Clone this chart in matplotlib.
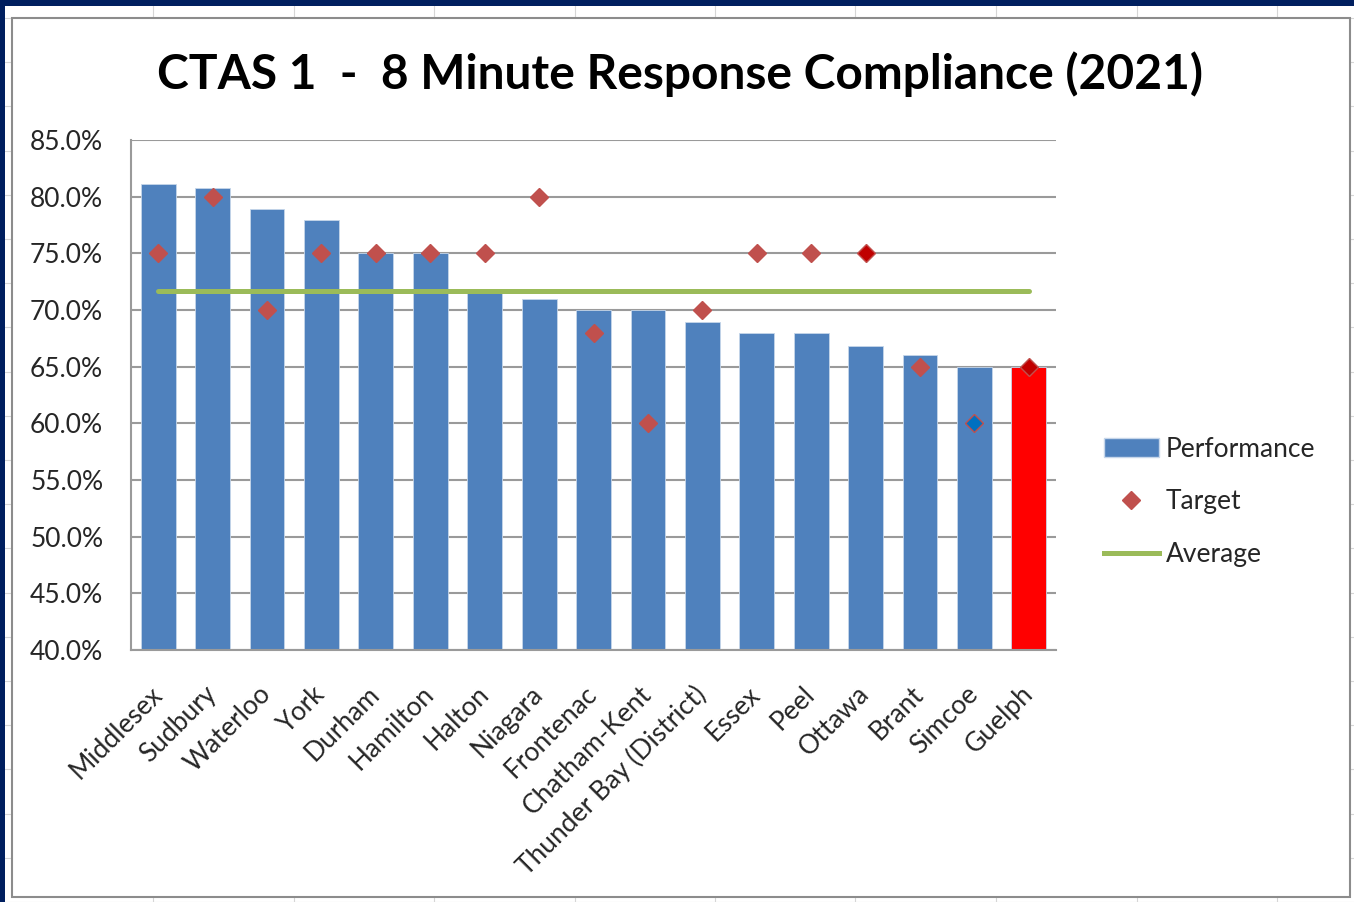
"""
CTAS 1 - 8 Minute Response Compliance (2021)
Excel-style combo chart: bars = performance, diamonds = target, line = average
"""

import matplotlib
matplotlib.use('Agg')
import matplotlib.pyplot as plt
from matplotlib.patches import Rectangle, Patch
from matplotlib.lines import Line2D
from matplotlib.ticker import FuncFormatter

plt.rcParams['font.family'] = ['Lato', 'DejaVu Sans']

# ---- data (percent) ----
regions = ['Middlesex', 'Sudbury', 'Waterloo', 'York', 'Durham', 'Hamilton',
           'Halton', 'Niagara', 'Frontenac', 'Chatham-Kent', 'Thunder Bay (District)',
           'Essex', 'Peel', 'Ottawa', 'Brant', 'Simcoe', 'Guelph']
performance = [81.1, 80.8, 78.9, 77.9, 75.0, 75.0, 71.6, 71.0, 70.0, 70.0,
               68.9, 68.0, 68.0, 66.8, 66.0, 65.0, 65.0]
target = [75, 80, 70, 75, 75, 75, 75, 80, 68, 60, 70, 75, 75, 75, 65, 60, 65]
average = 71.7

# ---- styling ----
BLUE = '#4F81BD'
RED_BAR = '#FF0000'
TARGET_RED = '#C0504D'
GREEN = '#9BBB59'
NAVY = '#001F5F'
GRID = '#9a9a9a'
TEXT = '#262626'

bar_colors = [BLUE] * (len(regions) - 1) + [RED_BAR]
marker_face = [TARGET_RED] * len(regions)
marker_face[13] = '#C00000'   # Ottawa
marker_face[15] = '#0070C0'   # Simcoe
marker_face[16] = '#C00000'   # Guelph

W, H = 1354, 902
fig = plt.figure(figsize=(W / 100, H / 100), dpi=100)
fig.patch.set_facecolor('white')


def px(x, y):
    return x / W, 1 - y / H


# spreadsheet cell lines behind the chart
for cx in [153, 293.5, 434, 574.5, 715, 855.5, 996, 1136.5, 1277]:
    fig.add_artist(Line2D([cx / W, cx / W], [0, 1], color='#d6d6d6', lw=0.8, zorder=0))
for k in range(21):
    ry = 18 + 44.2 * k
    fig.add_artist(Line2D([0, 1], [1 - ry / H, 1 - ry / H], color='#d6d6d6', lw=0.8, zorder=0))

# navy window frame (left and top)
fig.add_artist(Rectangle((0, 0), 5.5 / W, 1, transform=fig.transFigure,
                         facecolor=NAVY, edgecolor='none', zorder=1))
fig.add_artist(Rectangle((0, 1 - 5.5 / H), 1, 5.5 / H, transform=fig.transFigure,
                         facecolor=NAVY, edgecolor='none', zorder=1))

# chart area box
x0, y0 = px(12, 897)
fig.add_artist(Rectangle((x0, y0), (1350 - 12) / W, (897 - 18) / H,
                         transform=fig.transFigure, facecolor='white',
                         edgecolor='#8c8c8c', lw=1.5, zorder=1))

# plot area
ax = fig.add_axes([131 / W, (H - 650) / H, (1056 - 131) / W, (650 - 140) / H])
ax.set_zorder(2)
ax.patch.set_alpha(0)

xs = list(range(len(regions)))
ax.bar(xs, performance, width=0.64, color=bar_colors, edgecolor='#c6d6ea',
       linewidth=0.6, zorder=2)
ax.plot([xs[0], xs[-1]], [average, average], color=GREEN, lw=3.6,
        solid_capstyle='round', zorder=3)
for xi, t, fc in zip(xs, target, marker_face):
    ax.plot(xi, t, marker='D', markersize=9.5, markerfacecolor=fc,
            markeredgecolor=TARGET_RED, markeredgewidth=1.0, linestyle='none', zorder=4)

ax.set_xlim(-0.5, len(regions) - 0.5)
ax.set_ylim(40, 85)
ax.set_yticks(range(40, 86, 5))
ax.yaxis.set_major_formatter(FuncFormatter(lambda v, p: f'{v:.1f}%'))
ax.grid(axis='y', color=GRID, lw=1.5, zorder=1)
ax.set_axisbelow(True)

for s in ['top', 'right']:
    ax.spines[s].set_visible(False)
for s in ['left', 'bottom']:
    ax.spines[s].set_color(GRID)
    ax.spines[s].set_linewidth(1.5)

ax.set_xticks(xs)
ax.set_xticklabels(regions, rotation=45, ha='right', va='center',
                   rotation_mode='anchor')
ax.tick_params(axis='both', length=0, labelsize=19, colors=TEXT)
ax.tick_params(axis='y', pad=20)
ax.tick_params(axis='x', pad=29)

fig.text(px(680, 74)[0], px(680, 74)[1], 'CTAS 1  -  8 Minute Response Compliance (2021)',
         ha='center', va='center', fontsize=34.5, fontweight='bold', color='black')

handles = [Patch(facecolor=BLUE, edgecolor='#c6d6ea'),
           Line2D([], [], marker='D', color='none', markerfacecolor=TARGET_RED,
                  markeredgecolor=TARGET_RED, markersize=9.5),
           Line2D([], [], color=GREEN, lw=3.6)]
fig.legend(handles, ['Performance', 'Target', 'Average'],
           loc='center left', bbox_to_anchor=px(1080, 502), frameon=False,
           fontsize=19, labelcolor=TEXT, handlelength=2.1, handletextpad=0.25,
           labelspacing=1.05)

fig.savefig('out.png', dpi=100, facecolor='white')
